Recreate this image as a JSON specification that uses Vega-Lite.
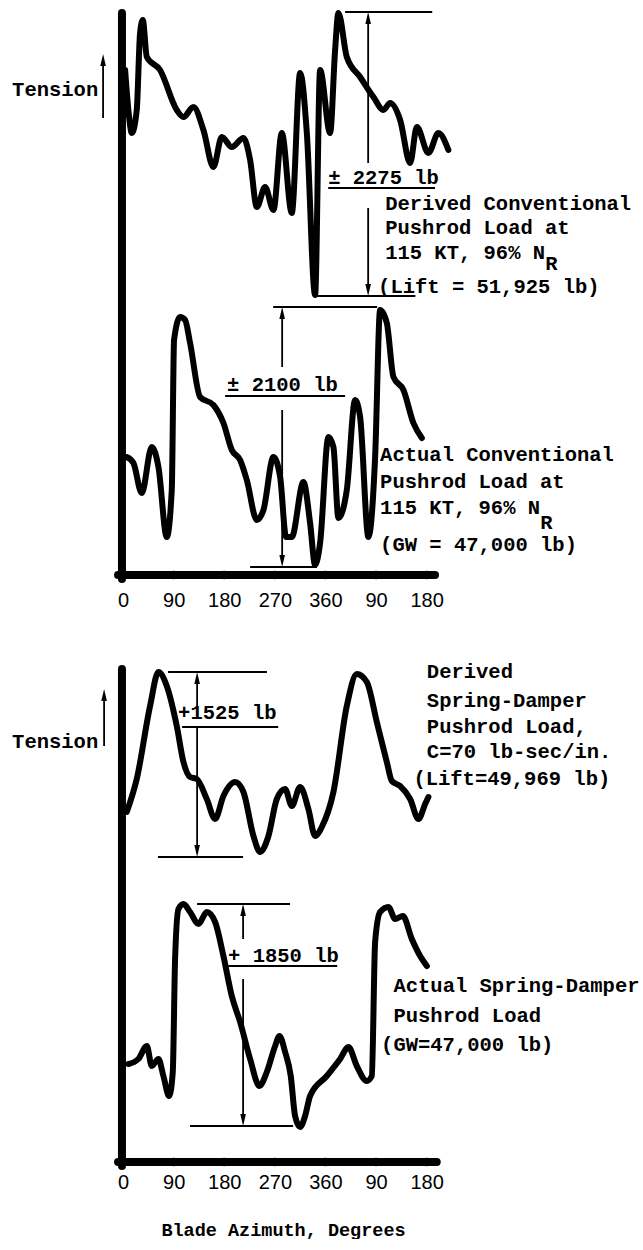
{
  "$schema": "https://vega.github.io/schema/vega-lite/v6.json",
  "padding": 0,
  "spacing": 29,
  "background": "white",
  "config": {"view": {"stroke": null}, "font": "Liberation Mono", "axis": {"grid": false}},
  "datasets": {
    "curves": [
      {"p":"top","s":"derived","az":3.6,"t":515},{"p":"top","s":"derived","az":9.4,"t":475},{"p":"top","s":"derived","az":15.5,"t":452},{"p":"top","s":"derived","az":24.3,"t":475},{"p":"top","s":"derived","az":30.2,"t":552},{"p":"top","s":"derived","az":35,"t":565},{"p":"top","s":"derived","az":42.2,"t":528},{"p":"top","s":"derived","az":65.8,"t":515},{"p":"top","s":"derived","az":95.5,"t":475},{"p":"top","s":"derived","az":107.4,"t":468},{"p":"top","s":"derived","az":125.1,"t":478},{"p":"top","s":"derived","az":142.9,"t":455},{"p":"top","s":"derived","az":160.7,"t":418},{"p":"top","s":"derived","az":175.6,"t":448},{"p":"top","s":"derived","az":193.4,"t":438},{"p":"top","s":"derived","az":214.1,"t":447},{"p":"top","s":"derived","az":226,"t":425},{"p":"top","s":"derived","az":237.9,"t":378},{"p":"top","s":"derived","az":252.7,"t":398},{"p":"top","s":"derived","az":267.5,"t":375},{"p":"top","s":"derived","az":282.4,"t":452},{"p":"top","s":"derived","az":300.1,"t":372},{"p":"top","s":"derived","az":315,"t":512},{"p":"top","s":"derived","az":326.9,"t":452},{"p":"top","s":"derived","az":341.6,"t":290},{"p":"top","s":"derived","az":350.5,"t":515},{"p":"top","s":"derived","az":368.3,"t":452},{"p":"top","s":"derived","az":377.2,"t":535},{"p":"top","s":"derived","az":383.1,"t":572},{"p":"top","s":"derived","az":398,"t":528},{"p":"top","s":"derived","az":421.7,"t":508},{"p":"top","s":"derived","az":445.4,"t":488},{"p":"top","s":"derived","az":463.2,"t":475},{"p":"top","s":"derived","az":475.1,"t":482},{"p":"top","s":"derived","az":492.9,"t":465},{"p":"top","s":"derived","az":510.7,"t":422},{"p":"top","s":"derived","az":522.6,"t":458},{"p":"top","s":"derived","az":543.2,"t":432},{"p":"top","s":"derived","az":561,"t":452},{"p":"top","s":"derived","az":578.8,"t":435},
      {"p":"top","s":"actual","az":6.5,"t":128},{"p":"top","s":"actual","az":18.4,"t":122},{"p":"top","s":"actual","az":33.2,"t":92},{"p":"top","s":"actual","az":51,"t":138},{"p":"top","s":"actual","az":62.9,"t":118},{"p":"top","s":"actual","az":77.7,"t":48},{"p":"top","s":"actual","az":86.6,"t":95},{"p":"top","s":"actual","az":90.7,"t":245},{"p":"top","s":"actual","az":101.4,"t":268},{"p":"top","s":"actual","az":110.3,"t":265},{"p":"top","s":"actual","az":119.2,"t":242},{"p":"top","s":"actual","az":137,"t":188},{"p":"top","s":"actual","az":160.7,"t":180},{"p":"top","s":"actual","az":178.5,"t":162},{"p":"top","s":"actual","az":193.4,"t":135},{"p":"top","s":"actual","az":208.2,"t":125},{"p":"top","s":"actual","az":220.1,"t":105},{"p":"top","s":"actual","az":237.9,"t":65},{"p":"top","s":"actual","az":249.7,"t":75},{"p":"top","s":"actual","az":267.5,"t":128},{"p":"top","s":"actual","az":279.4,"t":108},{"p":"top","s":"actual","az":290,"t":48},{"p":"top","s":"actual","az":300.1,"t":48},{"p":"top","s":"actual","az":320.8,"t":103},{"p":"top","s":"actual","az":332.7,"t":62},{"p":"top","s":"actual","az":341.6,"t":20},{"p":"top","s":"actual","az":350.5,"t":42},{"p":"top","s":"actual","az":365.3,"t":148},{"p":"top","s":"actual","az":374.2,"t":138},{"p":"top","s":"actual","az":383.1,"t":67},{"p":"top","s":"actual","az":398,"t":95},{"p":"top","s":"actual","az":412.8,"t":185},{"p":"top","s":"actual","az":421.7,"t":168},{"p":"top","s":"actual","az":436.5,"t":48},{"p":"top","s":"actual","az":448.4,"t":128},{"p":"top","s":"actual","az":457.3,"t":275},{"p":"top","s":"actual","az":469.2,"t":262},{"p":"top","s":"actual","az":481,"t":208},{"p":"top","s":"actual","az":498.8,"t":195},{"p":"top","s":"actual","az":516.5,"t":162},{"p":"top","s":"actual","az":531.5,"t":147},
      {"p":"bottom","s":"derived","az":6.5,"t":357},{"p":"bottom","s":"derived","az":24.3,"t":390},{"p":"bottom","s":"derived","az":48,"t":463},{"p":"bottom","s":"derived","az":62.9,"t":497},{"p":"bottom","s":"derived","az":77.7,"t":483},{"p":"bottom","s":"derived","az":95.5,"t":443},{"p":"bottom","s":"derived","az":107.4,"t":407},{"p":"bottom","s":"derived","az":119.2,"t":392},{"p":"bottom","s":"derived","az":131.1,"t":390},{"p":"bottom","s":"derived","az":148.9,"t":370},{"p":"bottom","s":"derived","az":163.7,"t":350},{"p":"bottom","s":"derived","az":178.5,"t":373},{"p":"bottom","s":"derived","az":199.3,"t":387},{"p":"bottom","s":"derived","az":214.1,"t":377},{"p":"bottom","s":"derived","az":231.9,"t":333},{"p":"bottom","s":"derived","az":243.8,"t":317},{"p":"bottom","s":"derived","az":258.6,"t":333},{"p":"bottom","s":"derived","az":273.5,"t":370},{"p":"bottom","s":"derived","az":288.3,"t":380},{"p":"bottom","s":"derived","az":300.1,"t":363},{"p":"bottom","s":"derived","az":315,"t":382},{"p":"bottom","s":"derived","az":329.7,"t":360},{"p":"bottom","s":"derived","az":341.6,"t":333},{"p":"bottom","s":"derived","az":353.5,"t":342},{"p":"bottom","s":"derived","az":374.2,"t":377},{"p":"bottom","s":"derived","az":398,"t":463},{"p":"bottom","s":"derived","az":415.8,"t":495},{"p":"bottom","s":"derived","az":433.6,"t":487},{"p":"bottom","s":"derived","az":451.4,"t":447},{"p":"bottom","s":"derived","az":469.2,"t":407},{"p":"bottom","s":"derived","az":478.1,"t":388},{"p":"bottom","s":"derived","az":492.9,"t":383},{"p":"bottom","s":"derived","az":510.7,"t":370},{"p":"bottom","s":"derived","az":525.5,"t":350},{"p":"bottom","s":"derived","az":537.4,"t":365},{"p":"bottom","s":"derived","az":543.2,"t":372},
      {"p":"bottom","s":"actual","az":9.4,"t":105},{"p":"bottom","s":"actual","az":27.2,"t":110},{"p":"bottom","s":"actual","az":42.2,"t":123},{"p":"bottom","s":"actual","az":51,"t":103},{"p":"bottom","s":"actual","az":62.9,"t":110},{"p":"bottom","s":"actual","az":71.7,"t":93},{"p":"bottom","s":"actual","az":81.9,"t":73},{"p":"bottom","s":"actual","az":88.4,"t":97},{"p":"bottom","s":"actual","az":92.5,"t":210},{"p":"bottom","s":"actual","az":98.5,"t":260},{"p":"bottom","s":"actual","az":107.4,"t":265},{"p":"bottom","s":"actual","az":119.2,"t":257},{"p":"bottom","s":"actual","az":134.1,"t":245},{"p":"bottom","s":"actual","az":148.9,"t":257},{"p":"bottom","s":"actual","az":163.7,"t":247},{"p":"bottom","s":"actual","az":178.5,"t":213},{"p":"bottom","s":"actual","az":193.4,"t":173},{"p":"bottom","s":"actual","az":208.2,"t":147},{"p":"bottom","s":"actual","az":226,"t":110},{"p":"bottom","s":"actual","az":242.6,"t":83},{"p":"bottom","s":"actual","az":255.7,"t":97},{"p":"bottom","s":"actual","az":270.5,"t":123},{"p":"bottom","s":"actual","az":278.2,"t":133},{"p":"bottom","s":"actual","az":288.3,"t":117},{"p":"bottom","s":"actual","az":298.3,"t":93},{"p":"bottom","s":"actual","az":306,"t":53},{"p":"bottom","s":"actual","az":315,"t":42},{"p":"bottom","s":"actual","az":323.8,"t":53},{"p":"bottom","s":"actual","az":332.7,"t":73},{"p":"bottom","s":"actual","az":362.4,"t":93},{"p":"bottom","s":"actual","az":386.1,"t":110},{"p":"bottom","s":"actual","az":400.9,"t":122},{"p":"bottom","s":"actual","az":415.8,"t":103},{"p":"bottom","s":"actual","az":433.6,"t":88},{"p":"bottom","s":"actual","az":442.5,"t":93},{"p":"bottom","s":"actual","az":448.4,"t":227},{"p":"bottom","s":"actual","az":457.3,"t":257},{"p":"bottom","s":"actual","az":472.1,"t":262},{"p":"bottom","s":"actual","az":484,"t":250},{"p":"bottom","s":"actual","az":497.7,"t":253},{"p":"bottom","s":"actual","az":513.7,"t":230},{"p":"bottom","s":"actual","az":528.5,"t":213},{"p":"bottom","s":"actual","az":540.4,"t":203}
    ],
    "frame": [
      {"p":"top","az":-2,"az2":-2,"t":572,"t2":6},
      {"p":"top","az":-9,"az2":555,"t":10,"t2":10},
      {"p":"bottom","az":-2,"az2":-2,"t":500,"t2":3},
      {"p":"bottom","az":-9,"az2":558,"t":7,"t2":7}
    ],
    "dots": [
      {"p":"top","az":90,"t":10},{"p":"top","az":180,"t":10},{"p":"top","az":270,"t":10},{"p":"top","az":360,"t":10},{"p":"top","az":450,"t":10},{"p":"top","az":540,"t":10},
      {"p":"bottom","az":90,"t":7},{"p":"bottom","az":180,"t":7},{"p":"bottom","az":270,"t":7},{"p":"bottom","az":360,"t":7},{"p":"bottom","az":450,"t":7},{"p":"bottom","az":540,"t":7}
    ],
    "dims": [
      {"p":"top","az":395,"az2":550,"t":573,"t2":573},
      {"p":"top","az":365,"az2":555,"t":397,"t2":397},
      {"p":"top","az":338,"az2":520,"t":289,"t2":289},
      {"p":"top","az":436,"az2":436,"t":566,"t2":422},
      {"p":"top","az":436,"az2":436,"t":377,"t2":296},
      {"p":"top","az":267,"az2":452,"t":278,"t2":278},
      {"p":"top","az":181.5,"az2":395,"t":189,"t2":189},
      {"p":"top","az":226,"az2":345,"t":18,"t2":18},
      {"p":"top","az":283,"az2":283,"t":271,"t2":218},
      {"p":"top","az":283,"az2":283,"t":175,"t2":25},
      {"p":"top","az":-35.6,"az2":-35.6,"t":524,"t2":467},
      {"p":"bottom","az":80,"az2":256,"t":497,"t2":497},
      {"p":"bottom","az":105,"az2":276,"t":442,"t2":442},
      {"p":"bottom","az":62,"az2":213.5,"t":312,"t2":312},
      {"p":"bottom","az":131.7,"az2":131.7,"t":490,"t2":462},
      {"p":"bottom","az":131.7,"az2":131.7,"t":442,"t2":319},
      {"p":"bottom","az":131.7,"az2":297,"t":265,"t2":265},
      {"p":"bottom","az":187,"az2":381,"t":203,"t2":203},
      {"p":"bottom","az":119,"az2":302.5,"t":43,"t2":43},
      {"p":"bottom","az":213.5,"az2":213.5,"t":258,"t2":230},
      {"p":"bottom","az":213.5,"az2":213.5,"t":190,"t2":50},
      {"p":"bottom","az":-33.8,"az2":-33.8,"t":473,"t2":423}
    ],
    "heads": [
      {"p":"top","az":436,"t":566,"dir":"up"},
      {"p":"top","az":436,"t":296,"dir":"down"},
      {"p":"top","az":283,"t":271,"dir":"up"},
      {"p":"top","az":283,"t":25,"dir":"down"},
      {"p":"top","az":-35.6,"t":524,"dir":"up"},
      {"p":"bottom","az":131.7,"t":490,"dir":"up"},
      {"p":"bottom","az":131.7,"t":319,"dir":"down"},
      {"p":"bottom","az":213.5,"t":258,"dir":"up"},
      {"p":"bottom","az":213.5,"t":50,"dir":"down"},
      {"p":"bottom","az":-33.8,"t":473,"dir":"up"}
    ],
    "labels": [
      {"p":"top","az":-197.5,"t":495,"text":"Tension"},
      {"p":"top","az":364.8,"t":407,"text":"± 2275 lb"},
      {"p":"top","az":466.2,"t":381,"text":"Derived Conventional"},
      {"p":"top","az":466.2,"t":357,"text":"Pushrod Load at"},
      {"p":"top","az":466.2,"t":332,"text":"115 KT, 96% N"},
      {"p":"top","az":751,"t":321,"text":"R"},
      {"p":"top","az":453.7,"t":298,"text":"(Lift = 51,925 lb)"},
      {"p":"top","az":185,"t":200,"text":"± 2100 lb"},
      {"p":"top","az":457.3,"t":130,"text":"Actual Conventional"},
      {"p":"top","az":457.3,"t":103,"text":"Pushrod Load at"},
      {"p":"top","az":457.3,"t":77,"text":"115 KT, 96% N"},
      {"p":"top","az":742,"t":62,"text":"R"},
      {"p":"top","az":457.3,"t":40,"text":"(GW = 47,000 lb)"},
      {"p":"bottom","az":-197.5,"t":427,"text":"Tension"},
      {"p":"bottom","az":97.9,"t":456,"text":"+1525 lb"},
      {"p":"bottom","az":186.8,"t":213,"text":"+ 1850 lb"},
      {"p":"bottom","az":540.4,"t":497,"text":"Derived"},
      {"p":"bottom","az":540.4,"t":468,"text":"Spring-Damper"},
      {"p":"bottom","az":540.4,"t":442,"text":"Pushrod Load,"},
      {"p":"bottom","az":540.4,"t":417,"text":"C=70 lb-sec/in."},
      {"p":"bottom","az":516.5,"t":390,"text":"(Lift=49,969 lb)"},
      {"p":"bottom","az":481,"t":183,"text":"Actual Spring-Damper"},
      {"p":"bottom","az":481,"t":153,"text":"Pushrod Load"},
      {"p":"bottom","az":459,"t":124,"text":"(GW=47,000 lb)"}
    ]
  },
  "vconcat": [
    {
      "width": 643,
      "height": 585,
      "encoding": {
        "x": {"field":"az","type":"quantitative","scale":{"domain":[-219,925],"nice":false,"zero":false},
              "axis":{"values":[0,90,180,270,360,450,540],"labelExpr":"datum.value > 360 ? '' + (datum.value - 360) : datum.label","domain":false,"ticks":false,"grid":false,"labelPadding":5,"labelFontSize":20,"labelFont":"Liberation Sans","labelColor":"black","labelOverlap":false,"labelFlush":false,"title":null}},
        "y": {"field":"t","type":"quantitative","scale":{"domain":[0,585],"nice":false,"zero":false},"axis":null}
      },
      "layer": [
        {"data":{"name":"frame"},"transform":[{"filter":"datum.p === 'top'"}],"mark":{"type":"rule","strokeWidth":8,"color":"black","strokeCap":"round"},"encoding":{"x2":{"field":"az2"},"y2":{"field":"t2"}}},
        {"data":{"name":"dots"},"transform":[{"filter":"datum.p === 'top'"}],"mark":{"type":"point","shape":"circle","filled":true,"size":70,"color":"black","opacity":1},"encoding":{}},
        {"data":{"name":"dims"},"transform":[{"filter":"datum.p === 'top'"}],"mark":{"type":"rule","strokeWidth":1.8,"color":"black"},"encoding":{"x2":{"field":"az2"},"y2":{"field":"t2"}}},
        {"data":{"name":"heads"},"transform":[{"filter":"datum.p === 'top'"}],"mark":{"type":"point","filled":true,"size":196,"color":"black","opacity":1,"strokeWidth":0},"encoding":{"shape":{"field":"dir","type":"nominal","scale":{"domain":["up","down"],"range":["M0,-1L0.4,0.7L-0.4,0.7Z","M0,1L0.4,-0.7L-0.4,-0.7Z"]},"legend":null}}},
        {"data":{"name":"curves"},"transform":[{"filter":"datum.p === 'top'"}],"mark":{"type":"line","strokeWidth":6,"color":"black","interpolate":"monotone","strokeCap":"round","strokeJoin":"round"},"encoding":{"detail":{"field":"s"}}},
        {"data":{"name":"labels"},"transform":[{"filter":"datum.p === 'top'"}],"mark":{"type":"text","align":"left","baseline":"middle","fontSize":20.5,"fontWeight":"bold","font":"Liberation Mono","color":"black"},"encoding":{"text":{"field":"text"}}}
      ]
    },
    {
      "width": 643,
      "height": 530,
      "encoding": {
        "x": {"field":"az","type":"quantitative","scale":{"domain":[-219,925],"nice":false,"zero":false},
              "axis":{"values":[0,90,180,270,360,450,540],"labelExpr":"datum.value > 360 ? '' + (datum.value - 360) : datum.label","domain":false,"ticks":false,"grid":false,"labelPadding":3,"labelFontSize":20,"labelFont":"Liberation Sans","labelColor":"black","labelOverlap":false,"labelFlush":false,
                      "title":"Blade Azimuth, Degrees","titleFont":"Liberation Mono","titleFontSize":18.5,"titleFontWeight":"bold","titleColor":"black","titlePadding":28,"titleX":283,"titleAlign":"center"}},
        "y": {"field":"t","type":"quantitative","scale":{"domain":[0,530],"nice":false,"zero":false},"axis":null}
      },
      "layer": [
        {"data":{"name":"frame"},"transform":[{"filter":"datum.p === 'bottom'"}],"mark":{"type":"rule","strokeWidth":8,"color":"black","strokeCap":"round"},"encoding":{"x2":{"field":"az2"},"y2":{"field":"t2"}}},
        {"data":{"name":"dots"},"transform":[{"filter":"datum.p === 'bottom'"}],"mark":{"type":"point","shape":"circle","filled":true,"size":70,"color":"black","opacity":1},"encoding":{}},
        {"data":{"name":"dims"},"transform":[{"filter":"datum.p === 'bottom'"}],"mark":{"type":"rule","strokeWidth":1.8,"color":"black"},"encoding":{"x2":{"field":"az2"},"y2":{"field":"t2"}}},
        {"data":{"name":"heads"},"transform":[{"filter":"datum.p === 'bottom'"}],"mark":{"type":"point","filled":true,"size":196,"color":"black","opacity":1,"strokeWidth":0},"encoding":{"shape":{"field":"dir","type":"nominal","scale":{"domain":["up","down"],"range":["M0,-1L0.4,0.7L-0.4,0.7Z","M0,1L0.4,-0.7L-0.4,-0.7Z"]},"legend":null}}},
        {"data":{"name":"curves"},"transform":[{"filter":"datum.p === 'bottom'"}],"mark":{"type":"line","strokeWidth":6,"color":"black","interpolate":"monotone","strokeCap":"round","strokeJoin":"round"},"encoding":{"detail":{"field":"s"}}},
        {"data":{"name":"labels"},"transform":[{"filter":"datum.p === 'bottom'"}],"mark":{"type":"text","align":"left","baseline":"middle","fontSize":20.5,"fontWeight":"bold","font":"Liberation Mono","color":"black"},"encoding":{"text":{"field":"text"}}}
      ]
    }
  ]
}
